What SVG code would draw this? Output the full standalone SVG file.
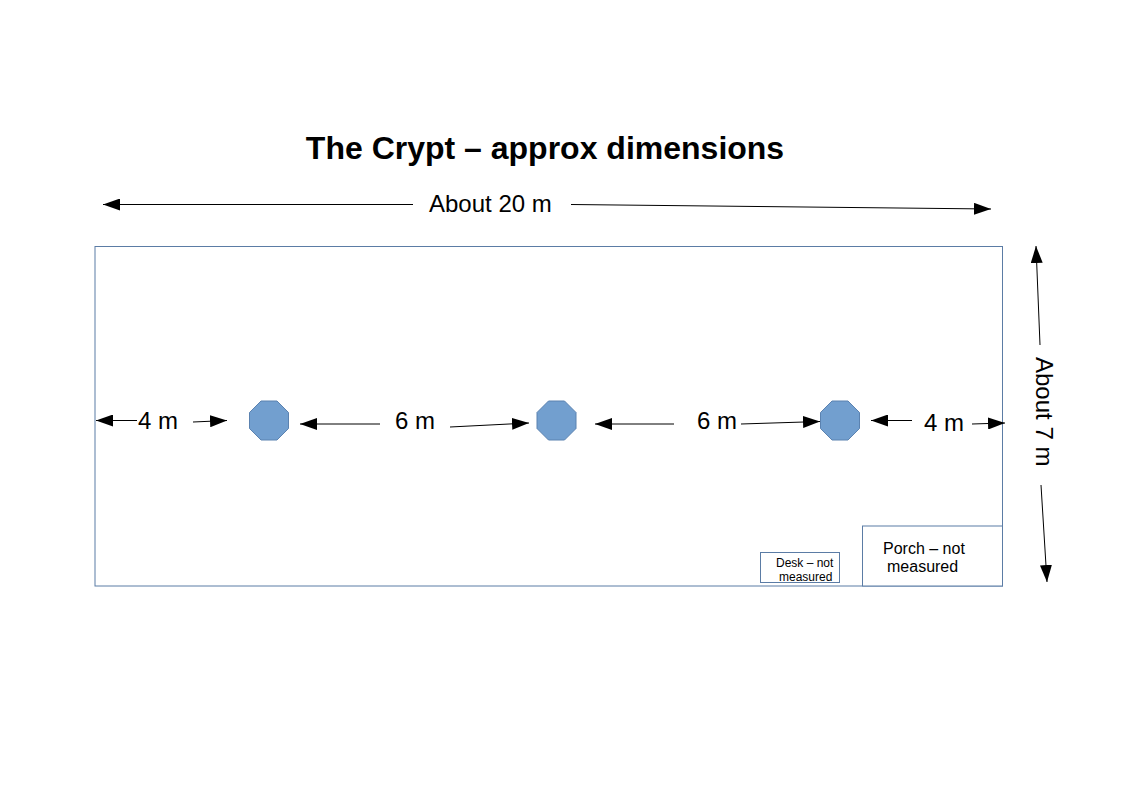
<svg xmlns="http://www.w3.org/2000/svg" width="1123" height="794" viewBox="0 0 1123 794">
<style>
text{font-family:"Liberation Sans",Arial,sans-serif;fill:#000}
.room{fill:#fff;stroke:#5b7ca5;stroke-width:1}
.col{fill:#729fcf;stroke:#5b82b0;stroke-width:1}
.a{stroke:#000;stroke-width:1;fill:none;marker-end:url(#arrow)}
.dim{font-size:24px}
.small{font-size:16px}
.tiny{font-size:12px}
</style>
<defs>
<marker id="arrow" markerUnits="userSpaceOnUse" markerWidth="18" markerHeight="12" refX="17" refY="6" orient="auto">
<path d="M0 0L17 6L0 12Z" fill="#000"/>
</marker>
</defs>
<rect width="1123" height="794" fill="#fff"/>
<g id="title"><text x="545" y="159" text-anchor="middle" font-size="32" font-weight="bold">The Crypt – approx dimensions</text></g>
<g id="room"><rect class="room" x="95" y="246.500" width="907.500" height="339.500"/></g>
<g id="porch"><rect class="room" x="862.500" y="526" width="140" height="60"/>
<text class="small" x="883" y="554">Porch – not</text><text class="small" x="887" y="572">measured</text></g>
<g id="desk"><rect class="room" x="760.500" y="552.500" width="79" height="30"/>
<text class="tiny" x="776" y="567">Desk – not</text><text class="tiny" x="779" y="581">measured</text></g>
<g id="column1"><path class="col" d="M261 401H277L288.500 412.500V428.500L277 440H261L249.500 428.500V412.500Z"/></g>
<g id="column2"><path class="col" d="M548.500 401H564.500L576 412.500V428.500L564.500 440H548.500L537 428.500V412.500Z"/></g>
<g id="column3"><path class="col" d="M832 401H848L859.500 412.500V428.500L848 440H832L820.500 428.500V412.500Z"/></g>
<g id="connectors">
<path class="a" d="M413 204.500H103"/>
<path class="a" d="M571 204.500L991 209"/>
<path class="a" d="M1040 345L1036 246"/>
<path class="a" d="M1041 485L1047 582"/>
<path class="a" d="M137 420.500H96"/>
<path class="a" d="M193 422L227 420.500"/>
<path class="a" d="M380 424H300"/>
<path class="a" d="M450 427L529 423"/>
<path class="a" d="M674 424H595"/>
<path class="a" d="M741 424L820 421.500"/>
<path class="a" d="M912 420.500H871"/>
<path class="a" d="M972 424L1005 423"/>
</g>
<g id="labels">
<text class="dim" x="429" y="212">About 20 m</text>
<text class="dim" x="138" y="429">4 m</text>
<text class="dim" x="395" y="429">6 m</text>
<text class="dim" x="697" y="429">6 m</text>
<text class="dim" x="924" y="431">4 m</text>
<text class="dim" transform="translate(1036 357) rotate(90)">About 7 m</text>
</g>
</svg>
